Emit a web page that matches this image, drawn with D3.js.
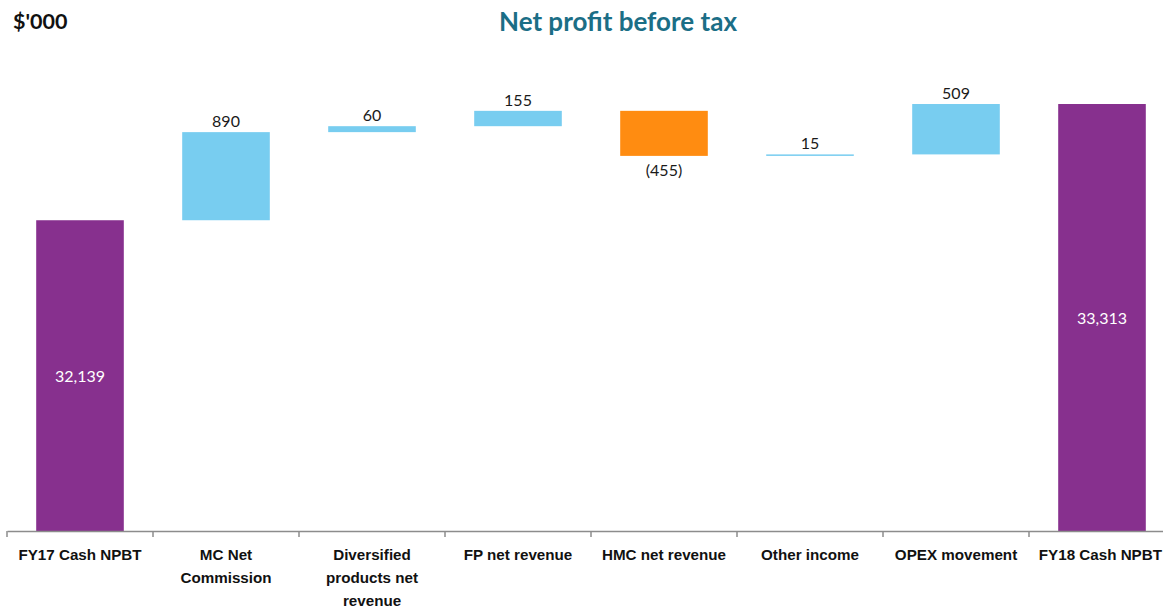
<!DOCTYPE html>
<html>
<head>
<meta charset="utf-8">
<script src="https://cdn.jsdelivr.net/npm/d3@7/dist/d3.min.js"></script>
<style>
  html, body { margin: 0; padding: 0; background: #fff; }
  svg { display: block; font-family: Lato, "Open Sans", sans-serif; }
</style>
</head>
<body>
<svg id="chart" width="1163" height="608"></svg>
<script>
// Waterfall: net profit before tax bridge, FY17 to FY18 ($'000)
const categories = [
  "FY17 Cash NPBT",
  "MC Net\nCommission",
  "Diversified\nproducts net\nrevenue",
  "FP net revenue",
  "HMC net revenue",
  "Other income",
  "OPEX movement",
  "FY18 Cash NPBT"
];
const values = [32139, 890, 60, 155, -455, 15, 509, 33313];
const kinds = ["total", "delta", "delta", "delta", "delta", "delta", "delta", "total"];
const yDomain = [29000, 34000];

const colors = { total: "#87308E", up: "#78CDF0", down: "#FF8C11" };

const W = 1163;
const svg = d3.select("#chart");
const baseY = 531;

const x = d3.scaleBand()
  .domain(categories)
  .range([7, 7 + 146 * categories.length])
  .paddingInner(0.4)
  .paddingOuter(0.2);

const y = d3.scaleLinear().domain(yDomain).range([baseY, 36]);

// running cumulative start/end for each step
let running = 0;
const steps = categories.map((c, i) => {
  let start, end;
  if (kinds[i] === "total") {
    start = yDomain[0];
    end = values[i];
    running = values[i];
  } else {
    start = running;
    end = running + values[i];
    running = end;
  }
  return { cat: c, value: values[i], kind: kinds[i], start, end };
});

const fmtTotal = d3.format(",");
const fmtDelta = v => v < 0 ? "(" + d3.format(",")(-v) + ")" : d3.format(",")(v);

// bars
svg.append("g").selectAll("rect")
  .data(steps)
  .join("rect")
  .attr("x", d => x(d.cat))
  .attr("width", x.bandwidth())
  .attr("y", d => y(Math.max(d.start, d.end)))
  .attr("height", d => Math.max(1.5, Math.abs(y(d.start) - y(d.end))))
  .attr("fill", d => d.kind === "total" ? colors.total : (d.value < 0 ? colors.down : colors.up));

// value labels
const labels = svg.append("g").attr("font-size", 16);
labels.selectAll("text")
  .data(steps)
  .join("text")
  .attr("text-anchor", "middle")
  .attr("x", d => x(d.cat) + x.bandwidth() / 2)
  .attr("y", d => {
    if (d.kind === "total") return (y(d.end) + y(d.start)) / 2 + 6;
    if (d.value < 0) return y(Math.min(d.start, d.end)) + 20;
    return y(Math.max(d.start, d.end)) - 5;
  })
  .attr("fill", d => d.kind === "total" ? "#ffffff" : "#1a1a1a")
  .text(d => d.kind === "total" ? fmtTotal(d.value) : fmtDelta(d.value));

// category axis: baseline, boundary ticks, wrapped labels
const axis = svg.append("g").attr("transform", `translate(0,${baseY})`);
axis.call(d3.axisBottom(x).tickSize(0).tickFormat(""));
axis.select(".domain").attr("stroke", "#8c8c8c").attr("stroke-width", 1.5);
const gap = (x.step() - x.bandwidth()) / 2;
const bounds = categories.map(c => x(c) - gap).concat([x(categories[categories.length - 1]) + x.bandwidth() + gap]);
axis.selectAll("line.bound")
  .data(bounds)
  .join("line")
  .attr("class", "bound")
  .attr("x1", d => d).attr("x2", d => d)
  .attr("y1", 0).attr("y2", 6)
  .attr("stroke", "#8c8c8c").attr("stroke-width", 1.5);

const catText = axis.selectAll("text.cat")
  .data(categories)
  .join("text")
  .attr("class", "cat")
  .attr("text-anchor", "middle")
  .attr("font-size", 15.2)
  .attr("font-weight", "bold")
  .attr("fill", "#111")
  .attr("transform", d => `translate(${x(d) + x.bandwidth() / 2},0)`);
catText.selectAll("tspan")
  .data(d => d.split("\n"))
  .join("tspan")
  .attr("x", 0)
  .attr("y", (d, i) => 29 + i * 23)
  .text(d => d);
// keep labels inside the drawing width
catText.each(function (d) {
  const w = this.getComputedTextLength ? d3.max(d3.select(this).selectAll("tspan").nodes(), n => n.getComputedTextLength()) : 0;
  const cx = x(d) + x.bandwidth() / 2;
  const maxX = W - 1 - w / 2;
  if (cx > maxX) d3.select(this).attr("transform", `translate(${maxX},0)`);
});

// headings
svg.append("text")
  .attr("x", 13).attr("y", 29)
  .attr("font-size", 21.5).attr("font-weight", "bold").attr("fill", "#111")
  .text("$'000");
svg.append("text")
  .attr("x", 618).attr("y", 31)
  .attr("text-anchor", "middle")
  .attr("font-size", 26).attr("font-weight", "bold").attr("fill", "#1B6E86")
  .text("Net profit before tax");
</script>
</body>
</html>
